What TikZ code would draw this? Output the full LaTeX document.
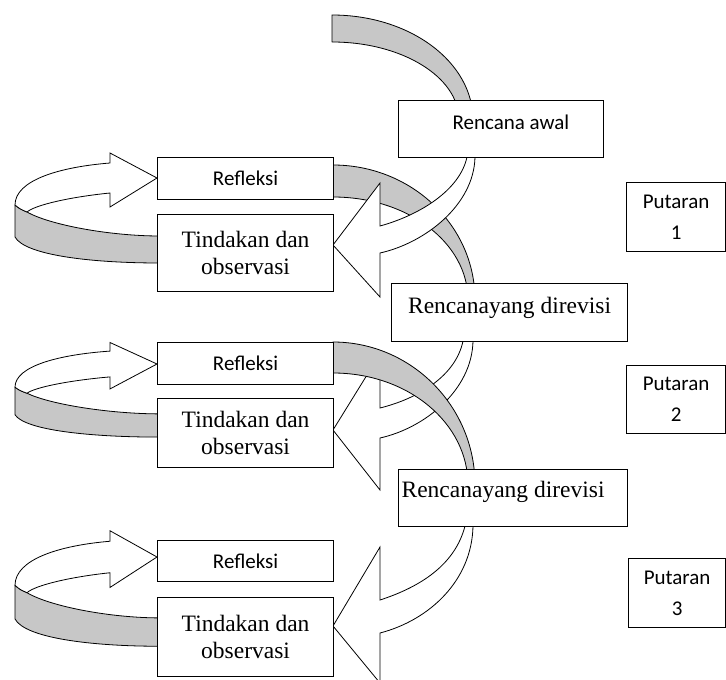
\documentclass[tikz,border=0pt]{standalone}
\usepackage{fontspec}
\setmainfont{Liberation Serif}
\newfontfamily\calib{Carlito}
\newcommand\ribbonloop[2]{%
\begin{scope}[shift={(0,#1)}, yscale=#2]
 \path[ribbon] (15,27) -- (15,59) .. controls (25,77) and (90,85) .. (160,85) -- (160,58) .. controls (110,58) and (50,47) .. (27,34) .. controls (20,31) .. (15,27) -- cycle;
 \path[whitearrow] (15,27) .. controls (15,2) and (60,-11) .. (110,-15) -- (110,-25) -- (157,0) -- (110,29) -- (110,15) .. controls (70,19) and (35,27) .. (27,34) .. controls (20,31) .. (15,27) -- cycle;
\end{scope}}
\begin{document}
\begin{tikzpicture}[x=1pt,y=-1pt,
  box/.style={draw, line width=1.2pt, fill=white, inner sep=0pt, anchor=north west},
  sanstext/.style={font=\calib\fontsize{21}{31}\selectfont},
  seriftext/.style={font=\fontsize{23.5}{27}\selectfont},
  ribbon/.style={draw, line width=0.8pt, fill=black!22, line join=round},
  whitearrow/.style={draw, line width=0.8pt, fill=white, line join=miter},
]
\useasboundingbox (0,0) rectangle (726,680);

% top arc into "Rencana awal"
\path[ribbon] (332,15) .. controls (410,15) and (473,62) .. (473,120) -- (459,120) .. controls (459,77) and (402,42) .. (332,42) -- cycle;

% round 1: gray arc from Refleksi to revised plan
\path[ribbon] (333,165) .. controls (411,165) and (475,225) .. (475,300) -- (468,300) .. controls (468,243) and (408,197) .. (333,197) -- cycle;
% round 1: white arrow from plan to action
\path[whitearrow] (475,150) -- (467,150) -- (467,157) .. controls (460,190) and (420,215) .. (380,226) -- (380,183) -- (333,245) -- (380,297) -- (380,253) .. controls (425,243) and (474,205) .. (475,157) -- cycle;

% round 2: white arrow
\path[whitearrow] (473,335) -- (463,335) -- (463,341) .. controls (456,375) and (420,398) .. (380,408) -- (380,354) -- (333,430) -- (380,490) -- (380,438) .. controls (425,428) and (472,390) .. (473,341) -- cycle;
% round 2: gray arc (over the white arrow)
\path[ribbon] (333,342) .. controls (411,342) and (475,406) .. (475,485) -- (468,485) .. controls (468,423) and (408,373) .. (333,373) -- cycle;

% round 3: white arrow
\path[whitearrow] (473,520) -- (465,520) -- (465,526) .. controls (455,565) and (420,587) .. (380,600) -- (380,547) -- (333,626) -- (380,683) -- (380,633) .. controls (430,620) and (472,580) .. (473,526) -- cycle;

% left loops
\ribbonloop{178}{1}
\ribbonloop{364}{0.86}
\ribbonloop{557}{1.05}

% boxes
\node[box, sanstext, text height=29pt, text depth=28pt] (ra) at (398,100) {\makebox[205pt][l]{\hspace*{54pt}Rencana awal}};
\node[box, seriftext, text height=30pt, text depth=28pt] (rd1) at (391,283) {\makebox[236pt][c]{Rencanayang direvisi}};
\node[box, seriftext, text height=28pt, text depth=29pt] (rd2) at (398,469) {\makebox[229pt][l]{\hspace*{3pt}Rencanayang direvisi}};

\node[box, sanstext, minimum width=176pt, minimum height=42pt] (rf1) at (157,157) {Refleksi};
\node[box, sanstext, minimum width=176pt, minimum height=42pt] (rf2) at (157,342) {Refleksi};
\node[box, sanstext, minimum width=176pt, minimum height=41pt] (rf3) at (157,540) {Refleksi};

\node[box, seriftext, align=center, minimum width=176pt, minimum height=77pt] (td1) at (157,214) {Tindakan dan\\observasi};
\node[box, seriftext, align=center, minimum width=176pt, minimum height=69pt] (td2) at (157,398) {Tindakan dan\\observasi};
\node[box, seriftext, align=center, minimum width=176pt, minimum height=79pt] (td3) at (157,597) {Tindakan dan\\observasi};

\node[box, sanstext, align=center, minimum width=99pt, minimum height=69pt] (p1) at (626,182) {Putaran\\1};
\node[box, sanstext, align=center, minimum width=99pt, minimum height=68pt] (p2) at (626,365) {Putaran\\2};
\node[box, sanstext, align=center, minimum width=97pt, minimum height=69pt] (p3) at (628,558) {Putaran\\3};
\end{tikzpicture}
\end{document}
